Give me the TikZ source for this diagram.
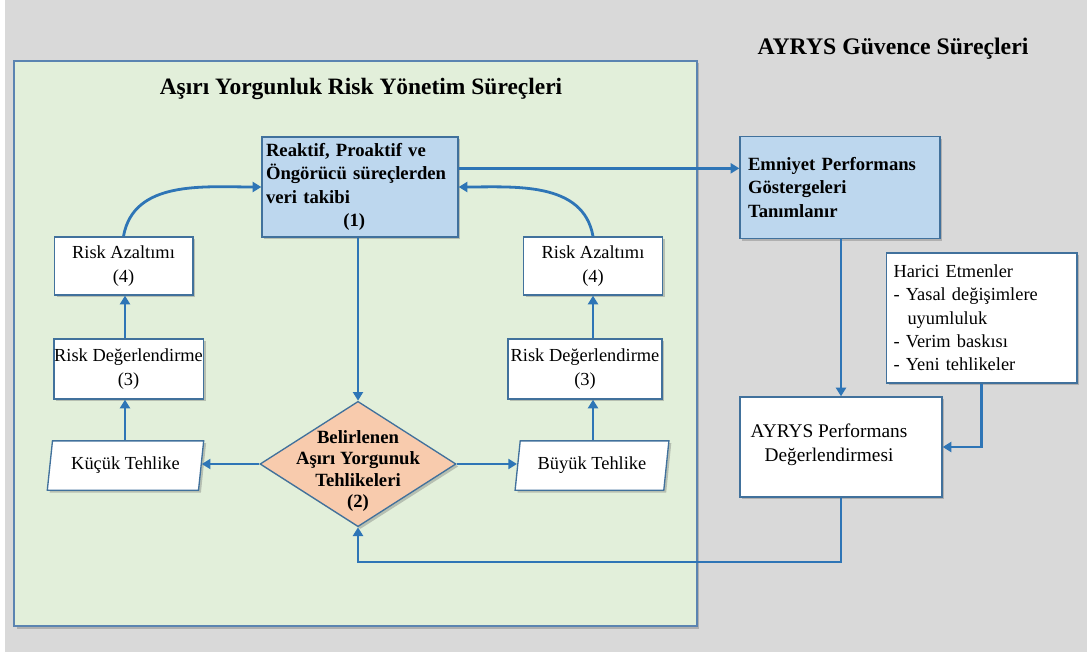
\documentclass[tikz,border=0pt]{standalone}
\usepackage{fontspec}
\setmainfont{Liberation Serif}
\usetikzlibrary{shapes.geometric,arrows.meta,shadows}
\definecolor{bgc}{HTML}{D9D9D9}
\definecolor{greenf}{HTML}{E2EFDA}
\definecolor{greenb}{HTML}{5B84B1}
\definecolor{bluef}{HTML}{BDD7EE}
\definecolor{diaf}{HTML}{F8CBAD}
\definecolor{bordc}{HTML}{41719C}
\definecolor{linec}{HTML}{2E75B6}
\begin{document}
\begin{tikzpicture}[x=0.75pt,y=-0.75pt,
  shad/.style={drop shadow={shadow xshift=1.8pt,shadow yshift=-1.8pt,opacity=0.35,fill=black!60}},
  box/.style={draw=bordc,line width=1pt,fill=white,shad,inner sep=0pt,align=center,
    font=\fontsize{13.8}{17.5}\selectfont},
  bluebox/.style={box,fill=bluef,font=\bfseries\fontsize{14}{17.5}\selectfont},
  para/.style={box,trapezium,trapezium left angle=77,trapezium right angle=103,trapezium stretches=true},
  conn/.style={draw=linec,line width=2.1pt,-{Triangle[length=6.5pt,width=7.5pt]}},
  txt/.style={inner sep=0pt,align=center}]
\useasboundingbox (0,0) rectangle (1087,652);
\fill[bgc] (0,0) rectangle (1087,652);
\fill[white] (0,0) rectangle (5,652);
% main green frame
\node[draw=greenb,line width=1.5pt,fill=greenf,shad,minimum width=512pt,minimum height=424pt,inner sep=0pt] (frame) at (355.5,343.5) {};
\node[txt,font=\bfseries\fontsize{17.6}{20}\selectfont] (t1) at (361,89) {Aşırı Yorgunluk Risk Yönetim Süreçleri};
\node[txt,font=\bfseries\fontsize{17.8}{20}\selectfont] (t2) at (893,49) {AYRYS Güvence Süreçleri};
% top box
\node[bluebox,font=\bfseries\fontsize{14}{17.6}\selectfont,minimum width=147pt,minimum height=75pt,text width=141pt,align=left] (obs) at (360,187)
  {Reaktif, Proaktif ve\\Öngörücü süreçlerden\\veri takibi\\\hspace*{58pt}(1)};
% diamond
\node[diamond,draw=bordc,line width=1pt,fill=diaf,shad,minimum width=147pt,minimum height=94pt,inner sep=0pt] (dia) at (358,464) {};
\node[txt,font=\bfseries\fontsize{14}{16}\selectfont] (diat) at (358,471) {Belirlenen\\Aşırı Yorgunuk\\Tehlikeleri\\(2)};
% left column
\node[box,minimum width=104pt,minimum height=43.5pt] (lra) at (123.5,266) {Risk Azaltımı\\(4)};
\node[box,minimum width=112pt,minimum height=45pt] (lrd) at (128.5,369) {Risk Değerlendirme\\(3)};
\node[para,minimum width=118pt,minimum height=37pt] (kuc) at (125.5,465.5) {Küçük Tehlike};
% right column
\node[box,minimum width=104pt,minimum height=43.5pt] (rra) at (593,266) {Risk Azaltımı\\(4)};
\node[box,minimum width=115.5pt,minimum height=45pt] (rrd) at (585,369) {Risk Değerlendirme\\(3)};
\node[para,minimum width=116pt,minimum height=37pt] (buy) at (592,465.5) {Büyük Tehlike};
% right side
\node[bluebox,minimum width=150pt,minimum height=76pt,text width=138pt,align=left] (emn) at (840,187.5)
  {Emniyet Performans\\Göstergeleri\\Tanımlanır};
\node[box,minimum width=143pt,minimum height=97.5pt,text width=132pt,align=left] (har) at (981.5,318)
  {Harici Etmenler\\- Yasal değişimlere\\\hspace*{10.5pt}uyumluluk\\- Verim baskısı\\- Yeni tehlikeler};
\node[box,minimum width=151.5pt,minimum height=75pt] (perf) at (841,447) {};
\node[txt,font=\fontsize{14.5}{18}\selectfont] (perft) at (829,445) {AYRYS Performans\\Değerlendirmesi};
% connectors
\coordinate (lx) at (125,0);
\coordinate (rx) at (593,0);
\draw[conn] (obs.south -| dia.north) -- (dia.north);
\draw[conn] (dia.west) -- (dia.west -| kuc.east);
\draw[conn] (dia.east) -- (dia.east -| buy.west);
\draw[conn] (kuc.north -| lx) -- (lrd.south -| lx);
\draw[conn] (lrd.north -| lx) -- (lra.south -| lx);
\draw[conn] (buy.north -| rx) -- (rrd.south -| rx);
\draw[conn] (rrd.north -| rx) -- (rra.south -| rx);
\draw[conn] (lra.north) to[out=80,in=180] (obs.west);
\draw[conn] (rra.north) to[out=100,in=0] (obs.east);
\draw[conn] ([yshift=14pt]obs.east) -- ([yshift=14pt]obs.east -| emn.west);
\draw[conn] (emn.south -| perf.north) -- (perf.north);
\draw[conn] (har.south) |- (perf.east);
\coordinate (fb) at (358,562);
\draw[conn] (perf.south) |- (fb) -- (dia.south);
\end{tikzpicture}
\end{document}
